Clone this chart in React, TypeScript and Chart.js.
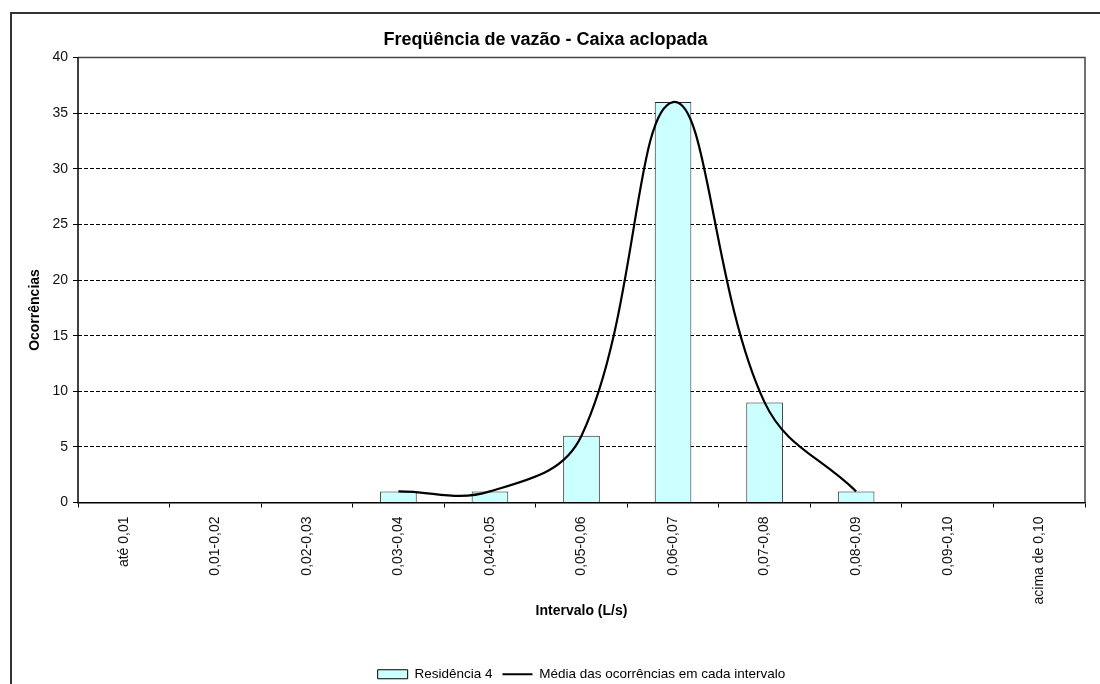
import React, { useEffect, useRef } from "react";
import { Chart, registerables } from "chart.js";

Chart.register(...registerables);

// Flow-rate intervals (L/s) and observed occurrences
const categories = [
  "até 0,01",
  "0,01-0,02",
  "0,02-0,03",
  "0,03-0,04",
  "0,04-0,05",
  "0,05-0,06",
  "0,06-0,07",
  "0,07-0,08",
  "0,08-0,09",
  "0,09-0,10",
  "acima de 0,10",
];
const occurrences = [0, 0, 0, 1, 1, 6, 36, 9, 1, 0, 0];
// Smoothed mean curve, only across the populated intervals
const meanCurve: (number | null)[] = [null, null, null, 1, 1, 6, 36, 9, 1, null, null];

const yMin = 0;
const yMax = 40;
const yStep = 5;

const barLabel = "Residência 4";
const lineLabel = "Média das ocorrências em cada intervalo";
const chartTitle = "Freqüência de vazão - Caixa aclopada";
const xTitle = "Intervalo (L/s)";
const yTitle = "Ocorrências";

const FONT = "'Liberation Sans', Arial, Helvetica, sans-serif";
const BAR_FILL = "#CCFFFF";

// Outer frame (left and top edges), plot-area box, solid value axis and its title
const framePlugin = {
  id: "frames",
  afterDraw(chart: any) {
    const { ctx, chartArea } = chart;
    ctx.save();
    ctx.strokeStyle = "#333";
    ctx.lineWidth = 2;
    ctx.beginPath();
    ctx.moveTo(11, chart.height);
    ctx.lineTo(11, 13);
    ctx.lineTo(chart.width, 13);
    ctx.stroke();

    ctx.strokeStyle = "#444";
    ctx.lineWidth = 1.5;
    ctx.beginPath();
    ctx.moveTo(chartArea.left, chartArea.top);
    ctx.lineTo(chartArea.right, chartArea.top);
    ctx.lineTo(chartArea.right, chartArea.bottom);
    ctx.stroke();

    ctx.strokeStyle = "#000";
    ctx.lineWidth = 1.5;
    ctx.beginPath();
    ctx.moveTo(chartArea.left, chartArea.top);
    ctx.lineTo(chartArea.left, chartArea.bottom);
    ctx.stroke();

    ctx.translate(35, 310);
    ctx.rotate(-Math.PI / 2);
    ctx.fillStyle = "#000";
    ctx.font = `bold 14px ${FONT}`;
    ctx.textAlign = "center";
    ctx.textBaseline = "middle";
    ctx.fillText(yTitle, 0, 0);
    ctx.restore();
  },
};

export default function App() {
  const canvasRef = useRef<HTMLCanvasElement | null>(null);

  useEffect(() => {
    document.body.style.margin = "0";
    const canvas = canvasRef.current;
    if (!canvas) return;

    const chart = new Chart(canvas, {
      type: "bar",
      data: {
        labels: categories,
        datasets: [
          {
            type: "bar",
            label: barLabel,
            data: occurrences,
            backgroundColor: BAR_FILL,
            borderColor: "#222",
            borderWidth: 1,
            barPercentage: 0.4,
            categoryPercentage: 1,
            order: 2,
          },
          {
            type: "line",
            label: lineLabel,
            data: meanCurve,
            borderColor: "#000",
            borderWidth: 2.2,
            pointRadius: 0,
            tension: 0.4,
            fill: false,
            spanGaps: false,
            order: 1,
          },
        ],
      },
      options: {
        animation: false,
        responsive: false,
        maintainAspectRatio: false,
        layout: { padding: { left: 6, right: 15, top: 0, bottom: -7 } },
        plugins: {
          title: {
            display: true,
            text: chartTitle,
            color: "#000",
            font: { family: FONT, size: 18, weight: "bold" },
            padding: { top: 29, bottom: 7 },
          },
          legend: {
            position: "bottom",
            fullSize: false,
            labels: {
              color: "#000",
              font: { family: FONT, size: 13.5 },
              usePointStyle: true,
              pointStyleWidth: 30,
              boxHeight: 9,
              padding: 10,
              generateLabels: () => [
                {
                  text: barLabel,
                  fillStyle: BAR_FILL,
                  strokeStyle: "#000",
                  lineWidth: 1,
                  pointStyle: "rect",
                  hidden: false,
                  datasetIndex: 0,
                },
                {
                  text: lineLabel,
                  fillStyle: "#000",
                  strokeStyle: "#000",
                  lineWidth: 2,
                  pointStyle: "line",
                  hidden: false,
                  datasetIndex: 1,
                },
              ],
            },
          },
          tooltip: { enabled: false },
        },
        scales: {
          x: {
            offset: true,
            grid: {
              display: true,
              drawOnChartArea: false,
              drawTicks: true,
              offset: true,
              tickLength: 5,
              color: "#000",
              tickColor: "#000",
            },
            border: { display: true, color: "#000", width: 1.5 },
            ticks: {
              color: "#111",
              font: { family: FONT, size: 14 },
              maxRotation: 90,
              minRotation: 90,
              padding: 9,
              autoSkip: false,
            },
            title: {
              display: true,
              text: xTitle,
              color: "#000",
              font: { family: FONT, size: 14, weight: "bold" },
              padding: { top: 37.6, bottom: 37.6 },
            },
            afterFit: (scale: any) => {
              scale.height = 155;
            },
          },
          y: {
            min: yMin,
            max: yMax,
            ticks: {
              stepSize: yStep,
              color: "#111",
              font: { family: FONT, size: 14 },
              padding: 5,
            },
            grid: {
              color: (ctx: any) =>
                ctx.tick && (ctx.tick.value === yMin || ctx.tick.value === yMax) ? "rgba(0,0,0,0)" : "#000",
              lineWidth: 1,
              tickColor: "#000",
              tickLength: 5,
              tickBorderDash: [],
            },
            border: { display: false, dash: [4, 2] },
            title: { display: false },
            afterFit: (scale: any) => {
              scale.width = 72;
            },
          },
        },
      },
      plugins: [framePlugin],
    });

    return () => chart.destroy();
  }, []);

  return (
    <div style={{ width: 1100, height: 684, background: "#fff" }}>
      <canvas ref={canvasRef} width={1100} height={684} style={{ display: "block" }} />
    </div>
  );
}
